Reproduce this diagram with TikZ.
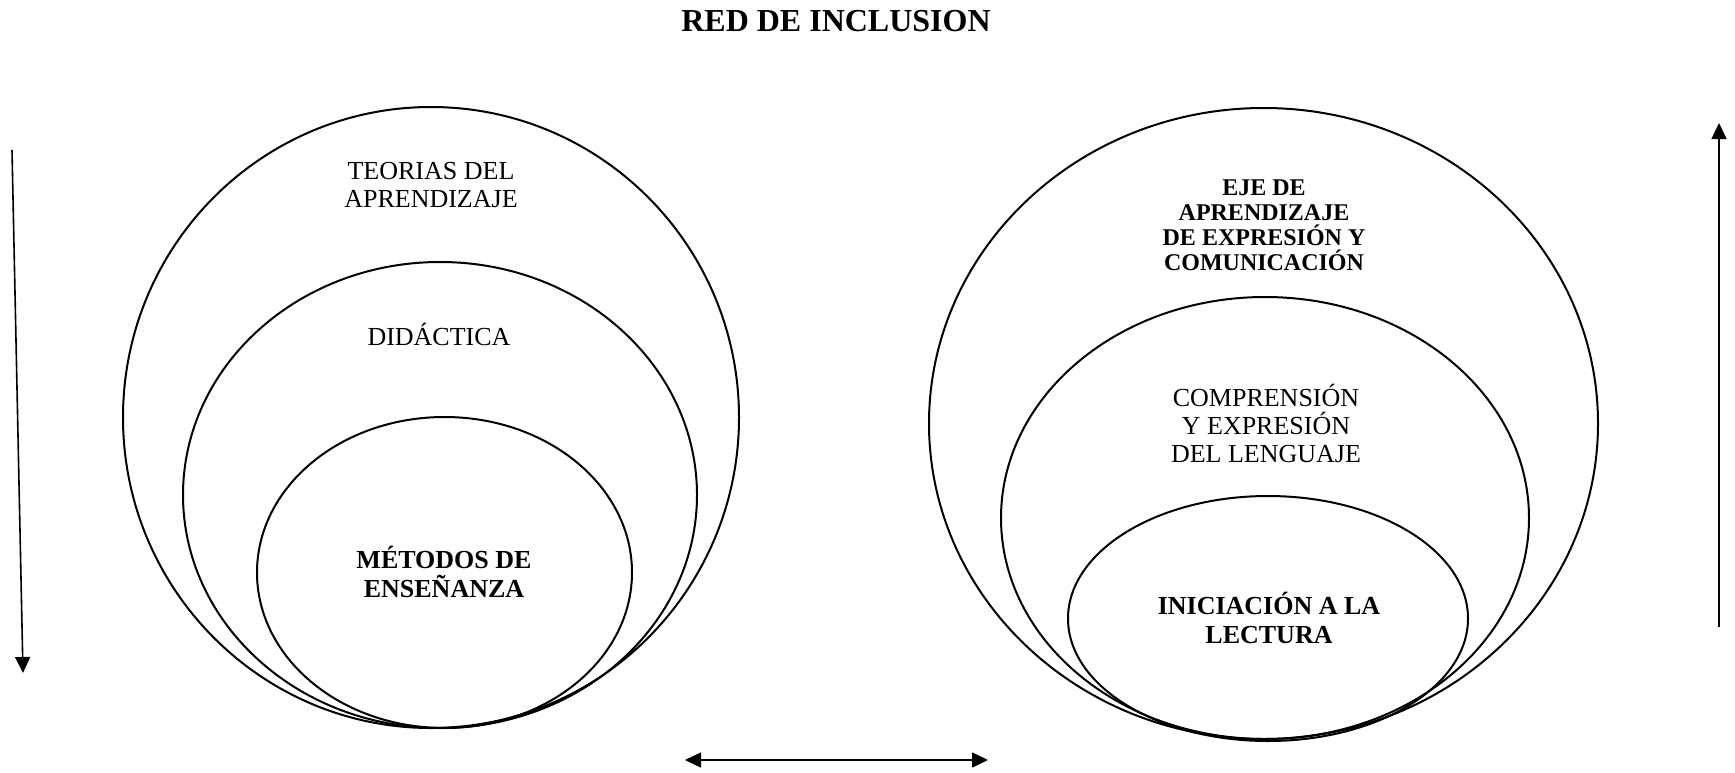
\documentclass[tikz,border=0pt]{standalone}
\usepackage{fontspec}
\setmainfont{Liberation Serif}
\usepackage{tikz}
\usetikzlibrary{positioning, calc, arrows.meta, shapes.geometric}

\begin{document}
\begin{tikzpicture}[
                x=1pt, y=-1pt,
                % Estilo de los circulos
                ring/.style={
                    ellipse, draw=black, line width=2pt,
                    inner sep=0pt, outer sep=0pt
                },
                % Estilo de los textos
                plaintxt/.style={
                    align=center, font=\fontsize{26}{28}\selectfont
                },
                boldtxt/.style={
                    align=center, font=\fontsize{26}{29}\selectfont\bfseries
                },
                % Estilo de las flechas
                flecha/.style={
                    -{Triangle[length=16pt,width=15pt]}, line width=1.6pt
                }
            ]
                \useasboundingbox (0,0) rectangle (1735,772);

                % 1. Titulo
                \node[font=\fontsize{32}{34}\selectfont\bfseries] (titulo) at (836,21) {RED DE INCLUSION};

                % 2. Circulos de la izquierda
                \node[ring, minimum width=616, minimum height=621] (teorias) at (431,417.5) {};
                \node[ring, minimum width=514, minimum height=466] (didactica) at (440,495) {};
                \node[ring, minimum width=375, minimum height=311] (metodos) at (444.5,572.5) {};

                \node[plaintxt] (tTeorias) at (431,185) {TEORIAS DEL\\APRENDIZAJE};
                \node[plaintxt] (tDidactica) at (439,334) {DIDÁCTICA};
                \node[boldtxt] (tMetodos) at (444,572) {MÉTODOS DE\\ENSEÑANZA};

                % 3. Circulos de la derecha
                \node[ring, minimum width=669, minimum height=631] (eje) at (1263.5,423.5) {};
                \node[ring, minimum width=528, minimum height=442] (comprension) at (1265,518) {};
                \node[ring, minimum width=400, minimum height=245] (iniciacion) at (1268,618.5) {};

                \node[align=center, font=\fontsize{24}{25}\selectfont\bfseries] (tEje) at (1264,225) {EJE DE\\APRENDIZAJE\\DE EXPRESIÓN Y\\COMUNICACIÓN};
                \node[plaintxt] (tComprension) at (1266,423) {COMPRENSIÓN\\Y EXPRESIÓN\\DEL LENGUAJE};
                \node[boldtxt] (tIniciacion) at (1269,618) {INICIACIÓN A LA\\LECTURA};

                % 4. Flechas
                \coordinate (baja1) at (12,150);
                \coordinate (baja2) at (23,673);
                \coordinate (sube1) at (1719,627);
                \coordinate (sube2) at (1719,123);
                \coordinate (horiz1) at (685,760);
                \coordinate (horiz2) at (988,760);

                \draw[flecha] (baja1) -- (baja2);
                \draw[flecha] (sube1) -- (sube2);
                \draw[flecha, {Triangle[length=16pt,width=15pt]}-{Triangle[length=16pt,width=15pt]}] (horiz1) -- (horiz2);

            \end{tikzpicture}
\end{document}
